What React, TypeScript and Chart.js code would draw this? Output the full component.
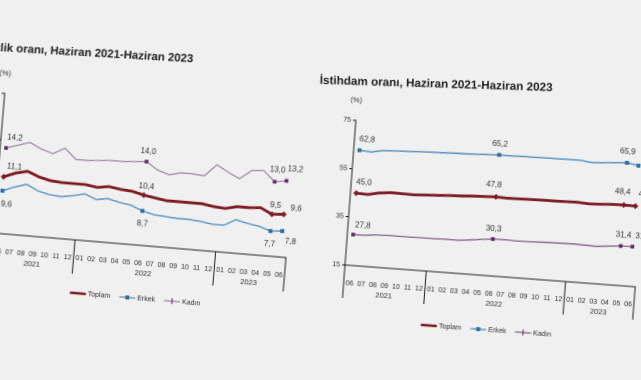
import React, { useEffect, useRef } from "react";
import { Chart, registerables } from "chart.js";

Chart.register(...registerables);

// ---- data ----
const months = [
  "06", "07", "08", "09", "10", "11", "12",
  "01", "02", "03", "04", "05", "06", "07", "08", "09", "10", "11", "12",
  "01", "02", "03", "04", "05", "06",
];
const yearLabels = ["2021", "2022", "2023"];
const yearStarts = [0, 7, 19];
const yearEnds = [6, 18, 24];
const labeledIdx = [0, 12, 23, 24];
const seriesNames = ["Toplam", "Erkek", "Kadın"];

const unempToplam = [11.1, 11.6, 11.9, 11.4, 11.1, 11.0, 11.0, 11.0, 10.8, 11.0, 10.8, 10.7, 10.4, 10.2, 10.0, 10.0, 10.0, 10.0, 9.8, 9.7, 10.0, 10.0, 10.1, 9.5, 9.6];
const unempErkek = [9.6, 10.1, 10.5, 9.9, 9.6, 9.5, 9.7, 10.0, 9.5, 9.7, 9.4, 9.2, 8.7, 8.4, 8.3, 8.2, 8.2, 8.1, 7.9, 7.9, 8.6, 8.3, 8.1, 7.7, 7.8];
const unempKadin = [14.2, 14.6, 15.0, 14.4, 14.0, 14.7, 13.6, 13.6, 13.7, 13.8, 13.8, 13.9, 14.0, 13.2, 12.8, 13.1, 13.1, 13.0, 14.3, 13.6, 13.0, 14.0, 14.1, 13.0, 13.2];
const unempTicks = [5, 10, 15, 20];

const empToplam = [45.0, 44.8, 45.8, 46.3, 46.2, 46.1, 46.4, 46.6, 46.9, 47.1, 47.4, 47.6, 47.8, 47.6, 47.7, 47.8, 47.9, 47.9, 48.0, 48.1, 47.8, 48.0, 48.3, 48.4, 48.3];
const empErkek = [62.8, 62.4, 63.4, 63.6, 63.8, 64.0, 64.2, 64.3, 64.5, 64.6, 64.8, 65.0, 65.2, 65.2, 65.3, 65.3, 65.4, 65.4, 65.5, 65.5, 64.9, 65.2, 65.6, 65.9, 65.1];
const empKadin = [27.8, 27.9, 28.4, 28.5, 28.5, 28.5, 28.6, 28.6, 28.8, 28.7, 29.2, 29.8, 30.3, 30.4, 30.2, 30.3, 30.5, 30.6, 30.7, 30.8, 30.6, 30.5, 31.0, 31.4, 31.5];
const empTicks = [15, 35, 55, 75];

const FONT = '"Liberation Sans", Arial, sans-serif';

type Off = [number, number];
interface Geo {
  screenX: number;
  screenY: number;
  rot: number;
  L: number;
  T: number;
  W: number;
  H: number;
  yW: number;
  xH: number;
  plotW: number;
  plotH: number;
  title: string;
  titleU: number;
  titleV: number;
  titleAlign: CanvasTextAlign;
  titleRot: number;
  titleWidth: number;
  legendV: number;
  yearV: number;
  sepLen: number;
  offsets: Off[][]; // per dataset, per labeled index
  colors: { line: string; point: string; width: number }[];
  values: number[][];
  ticks: number[];
}

function fmt(v: number) {
  return v.toFixed(1).replace(".", ",");
}

function decor(g: Geo) {
  return {
    id: "decor",
    afterDraw(chart: any) {
      const ctx: CanvasRenderingContext2D = chart.ctx;
      const a = chart.chartArea;
      const x0 = a.left;
      const y0 = a.bottom;
      const step = (a.right - a.left) / months.length;
      ctx.save();
      ctx.strokeStyle = "#222";
      ctx.lineWidth = 1;
      // separators (y-axis extension, year boundaries, right end)
      const bounds = [0, ...yearEnds.map((e) => e + 1)];
      bounds.forEach((b) => {
        const x = x0 + b * step;
        ctx.beginPath();
        ctx.moveTo(x, y0);
        ctx.lineTo(x, y0 + g.sepLen);
        ctx.stroke();
      });
      // year labels
      ctx.fillStyle = "#333";
      ctx.font = `7.5px ${FONT}`;
      ctx.textAlign = "center";
      ctx.textBaseline = "middle";
      yearLabels.forEach((lab, k) => {
        const cx = x0 + ((yearStarts[k] + yearEnds[k] + 1) / 2) * step;
        ctx.fillText(lab, cx, y0 + g.yearV);
      });
      // (%)
      ctx.font = `7.5px ${FONT}`;
      ctx.fillText("(%)", x0 - 1, a.top - 20);
      // title
      ctx.save();
      ctx.translate(x0 + g.titleU, y0 + g.titleV);
      ctx.rotate((g.titleRot * Math.PI) / 180);
      ctx.font = `bold 11px ${FONT}`;
      const mw = ctx.measureText(g.title).width;
      const size = (11 * g.titleWidth) / mw;
      ctx.font = `bold ${size.toFixed(2)}px ${FONT}`;
      ctx.textAlign = g.titleAlign;
      ctx.textBaseline = "middle";
      ctx.fillStyle = "#1c1c1c";
      ctx.fillText(g.title, 0, 0);
      ctx.restore();
      // legend
      ctx.font = `7px ${FONT}`;
      ctx.textAlign = "left";
      ctx.textBaseline = "middle";
      const sample = 16;
      const gap = 9;
      const widths = seriesNames.map((n) => sample + 2 + ctx.measureText(n).width);
      const total = widths.reduce((s, w) => s + w, 0) + gap * (seriesNames.length - 1);
      let lx = x0 + (a.right - a.left) / 2 - total / 2;
      const ly = y0 + g.legendV;
      seriesNames.forEach((n, k) => {
        const c = g.colors[k];
        ctx.strokeStyle = c.line;
        ctx.lineWidth = k === 0 ? 2.6 : 1.2;
        ctx.beginPath();
        ctx.moveTo(lx, ly);
        ctx.lineTo(lx + sample, ly);
        ctx.stroke();
        if (k === 1) {
          ctx.fillStyle = c.point;
          ctx.fillRect(lx + sample / 2 - 2, ly - 2, 4, 4);
        } else if (k === 2) {
          ctx.strokeStyle = c.point;
          ctx.lineWidth = 1;
          ctx.beginPath();
          ctx.moveTo(lx + sample / 2, ly - 3);
          ctx.lineTo(lx + sample / 2, ly + 3);
          ctx.stroke();
        }
        ctx.fillStyle = "#333";
        ctx.fillText(n, lx + sample + 2, ly);
        lx += widths[k] + gap;
      });
      // data labels
      ctx.font = `8px ${FONT}`;
      ctx.textAlign = "center";
      ctx.fillStyle = "#333";
      g.values.forEach((vals, d) => {
        const meta = chart.getDatasetMeta(d);
        labeledIdx.forEach((idx, j) => {
          const pt = meta.data[idx];
          const [dx, dy] = g.offsets[d][j];
          ctx.fillText(fmt(vals[idx]), pt.x + dx, pt.y + dy);
        });
      });
      ctx.restore();
    },
  };
}

function LineChart({ g }: { g: Geo }) {
  const ref = useRef<HTMLCanvasElement | null>(null);
  useEffect(() => {
    if (!ref.current) return;
    const styles = ["rectRot", "rect", "rect"];
    const radius = [3, 2.8, 2.6];
    const chart = new Chart(ref.current, {
      type: "line",
      data: {
        labels: months,
        datasets: g.values.map((vals, d) => ({
          label: seriesNames[d],
          data: vals,
          borderColor: g.colors[d].line,
          borderWidth: g.colors[d].width,
          pointStyle: styles[d] as any,
          pointRadius: vals.map((_, i) => (labeledIdx.includes(i) ? radius[d] : 0)),
          pointBackgroundColor: g.colors[d].point,
          pointBorderColor: g.colors[d].point,
          pointBorderWidth: 0,
          tension: 0,
          fill: false,
        })),
      },
      options: {
        animation: false,
        responsive: false,
        devicePixelRatio: 2,
        layout: {
          padding: {
            left: g.L - g.yW,
            top: g.T,
            right: g.W - g.L - g.plotW,
            bottom: g.H - g.T - g.plotH - g.xH,
          },
        },
        plugins: {
          legend: { display: false },
          title: { display: false },
          tooltip: { enabled: false },
        },
        scales: {
          x: {
            offset: true,
            grid: { display: false },
            border: { display: true, color: "#222", width: 1 },
            ticks: {
              font: { size: 7, family: FONT },
              color: "#333",
              maxRotation: 0,
              minRotation: 0,
              autoSkip: false,
              padding: 6,
            },
            afterFit: (s: any) => {
              s.height = g.xH;
            },
          },
          y: {
            min: g.ticks[0],
            max: g.ticks[g.ticks.length - 1],
            afterBuildTicks: (s: any) => {
              s.ticks = g.ticks.map((v) => ({ value: v }));
            },
            grid: { drawOnChartArea: false, drawTicks: true, tickLength: 3, color: "#222" },
            border: { display: true, color: "#222", width: 1 },
            ticks: { font: { size: 7, family: FONT }, color: "#333", padding: 2 },
            afterFit: (s: any) => {
              s.width = g.yW;
            },
          },
        },
      },
      plugins: [decor(g) as any],
    });
    return () => chart.destroy();
  }, [g]);
  return (
    <div
      style={{
        position: "absolute",
        left: g.screenX - g.L,
        top: g.screenY - (g.T + g.plotH),
        width: g.W,
        height: g.H,
        transformOrigin: `${g.L}px ${g.T + g.plotH}px`,
        transform: `rotate(${g.rot}deg)`,
      }}
    >
      <canvas ref={ref} width={g.W} height={g.H} style={{ width: g.W, height: g.H, display: "block" }} />
    </div>
  );
}

const leftGeo: Geo = {
  screenX: -7,
  screenY: 232.5,
  rot: 4.8,
  L: 70,
  T: 210,
  W: 420,
  H: 430,
  yW: 30,
  xH: 80,
  plotW: 294,
  plotH: 140,
  title: "İşsizlik oranı, Haziran 2021-Haziran 2023",
  titleU: 185,
  titleV: -190,
  titleAlign: "right",
  titleRot: -1.5,
  titleWidth: 218,
  legendV: 53,
  yearV: 28,
  sepLen: 34,
  offsets: [
    [[10, -11], [2, -9], [3, -9], [12, -7]],
    [[5, 13], [1, 13], [0, 13], [9, 10]],
    [[8, -11], [1, -10], [2, -12], [8, -12]],
  ],
  colors: [
    { line: "#7c1a22", point: "#7c1a22", width: 2.8 },
    { line: "#5a95c2", point: "#2f6e9e", width: 1.4 },
    { line: "#9a86a0", point: "#5c2b60", width: 1.2 },
  ],
  values: [unempToplam, unempErkek, unempKadin],
  ticks: unempTicks,
};

const rightGeo: Geo = {
  screenX: 345,
  screenY: 265,
  rot: 4.3,
  L: 70,
  T: 210,
  W: 420,
  H: 435,
  yW: 30,
  xH: 80,
  plotW: 291,
  plotH: 145,
  title: "İstihdam oranı, Haziran 2021-Haziran 2023",
  titleU: -39,
  titleV: -182,
  titleAlign: "left",
  titleRot: -2.5,
  titleWidth: 233,
  legendV: 54,
  yearV: 28,
  sepLen: 33,
  offsets: [
    [[7, -11], [-3, -12], [-2, -13], [10, -12]],
    [[7, -11], [0, -11], [0, -11], [10, -12]],
    [[9, -10], [0, -10], [2, -11], [10, -11]],
  ],
  colors: [
    { line: "#7a1a22", point: "#7a1a22", width: 2.8 },
    { line: "#4f8dbb", point: "#2f6e9e", width: 1.4 },
    { line: "#86628a", point: "#5c2b60", width: 1.3 },
  ],
  values: [empToplam, empErkek, empKadin],
  ticks: empTicks,
};

export default function App() {
  return (
    <div
      style={{
        position: "fixed",
        left: 0,
        top: 0,
        width: 641,
        height: 380,
        overflow: "hidden",
        background: "#f0f0f0",
      }}
    >
      <LineChart g={leftGeo} />
      <LineChart g={rightGeo} />
    </div>
  );
}
